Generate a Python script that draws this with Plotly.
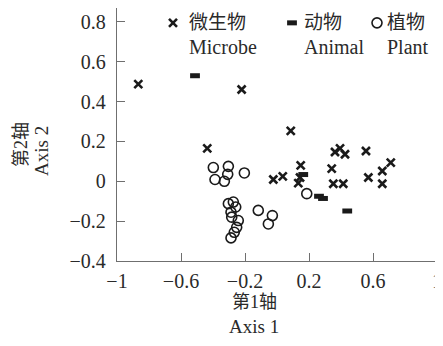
import plotly.graph_objects as go

# Microbe (×)
microbe_x = [-0.867, -0.221, -0.436, 0.086, 0.3625, 0.394, 0.425, 0.556, 0.148, 0.342,
             0.711, 0.658, -0.023, 0.036, 0.144, 0.133, 0.352, 0.414, 0.571, 0.658]
microbe_y = [0.488, 0.461, 0.165, 0.253, 0.147, 0.165, 0.136, 0.152, 0.080, 0.064,
             0.094, 0.052, 0.009, 0.025, 0.019, -0.009, -0.012, -0.012, 0.019, -0.012]

# Animal (filled bar)
animal_x = [-0.5125, 0.164, 0.2625, 0.2875, 0.439]
animal_y = [0.530, 0.034, -0.075, -0.086, -0.149]

# Plant (open circle)
plant_x = [-0.398, -0.304, -0.3875, -0.329, -0.308, -0.204, -0.304, -0.273, -0.258, -0.2875,
           -0.283, -0.242, -0.252, -0.267, -0.2875, -0.117, -0.029, -0.054, 0.186]
plant_y = [0.069, 0.075, 0.009, 0.0, 0.035, 0.042, -0.112, -0.104, -0.129, -0.155,
           -0.18, -0.197, -0.231, -0.256, -0.284, -0.146, -0.172, -0.214, -0.062]

x_ticks = [-1, -0.6, -0.2, 0.2, 0.6, 1]
x_tick_text = ["\u22121", "\u22120.6", "\u22120.2", "0.2", "0.6", "1"]
y_ticks = [-0.4, -0.2, 0, 0.2, 0.4, 0.6, 0.8]
y_tick_text = ["\u22120.4", "\u22120.2", "0", "0.2", "0.4", "0.6", "0.8"]

legend_cn = ["微生物", "动物", "植物"]
legend_en = ["Microbe", "Animal", "Plant"]

FONT = "Liberation Serif, Times New Roman, Noto Sans CJK SC, serif"
INK = "#1a1a1a"
TXT = "#2a2a2a"
AXIS = "#6f6f6f"

# The page body has an 8px margin, so the figure is shrunk by 8px and margins adjusted.
BODY = 8
W, H = 443 - BODY, 346 - BODY
# plot-area geometry in page pixels (used only for placing texts)
L, R, T, B = 117, 437, 8, 261
def px(xp):
    return (xp - L) / (R - L)
def py(yp):
    return (B - yp) / (B - T)

fig = go.Figure()
fig.add_trace(go.Scatter(
    x=microbe_x, y=microbe_y, mode="markers", name=" ",
    marker=dict(symbol="x-thin-open", size=8, line=dict(width=2.6, color=INK), color=INK),
    legend="legend"))
fig.add_trace(go.Scatter(
    x=plant_x, y=plant_y, mode="markers", name=" ",
    marker=dict(symbol="circle-open", size=10, line=dict(width=1.6, color=INK), color=INK),
    legend="legend3"))
fig.add_trace(go.Scatter(
    x=animal_x, y=animal_y, mode="markers", name=" ",
    marker=dict(symbol="line-ew-open", size=7, line=dict(width=5, color=INK), color=INK),
    legend="legend2"))

LEG_OFF = 20
leg_common = dict(orientation="v", bgcolor="rgba(0,0,0,0)",
                  borderwidth=0, yanchor="top", y=py(4), xanchor="left",
                  font=dict(family=FONT, size=19, color=INK), itemsizing="trace")

axis_common = dict(ticks="inside", ticklen=8, tickwidth=1.4, tickcolor=AXIS,
                   showline=True, linecolor=AXIS, linewidth=1.4,
                   showgrid=False, zeroline=False, automargin=False,
                   tickfont=dict(family=FONT, size=20, color=TXT))

fig.update_layout(
    width=W, height=H,
    margin=dict(l=L - BODY, r=W - (R - BODY), t=T - BODY, b=H - (B - BODY),
                autoexpand=False),
    plot_bgcolor="white", paper_bgcolor="white",
    font=dict(family=FONT, size=19, color=TXT),
    xaxis=dict(axis_common, range=[-1, 1], tickvals=x_ticks, ticktext=x_tick_text,
               ticklabelstandoff=2),
    yaxis=dict(axis_common, range=[-0.4, 0.87], tickvals=y_ticks, ticktext=y_tick_text,
               ticklabelstandoff=6),
    showlegend=True,
    legend=dict(leg_common, x=px(173 - LEG_OFF)),
    legend2=dict(leg_common, x=px(292 - LEG_OFF)),
    legend3=dict(leg_common, x=px(377 - LEG_OFF)),
)

def note(text, xp, yp, xanchor="center", angle=0, size=19):
    fig.add_annotation(text=text, x=px(xp), y=py(yp), xref="paper", yref="paper",
                       showarrow=False, xanchor=xanchor, yanchor="middle",
                       textangle=angle, font=dict(family=FONT, size=size, color=TXT))

# legend texts
leg_text_x = [187, 302, 385]
for cn, en, xp in zip(legend_cn, legend_en, leg_text_x):
    note(cn, xp, 23, xanchor="left", size=19)
    note(en, xp, 47, xanchor="left", size=20)

# x-axis title
note("第1轴", 254, 302, size=18)
note("Axis 1", 254, 326)
# y-axis title (rotated)
note("第2轴", 21, 145, angle=-90, size=18)
note("Axis 2", 41, 151, angle=-90)

fig.write_html("out.html")
